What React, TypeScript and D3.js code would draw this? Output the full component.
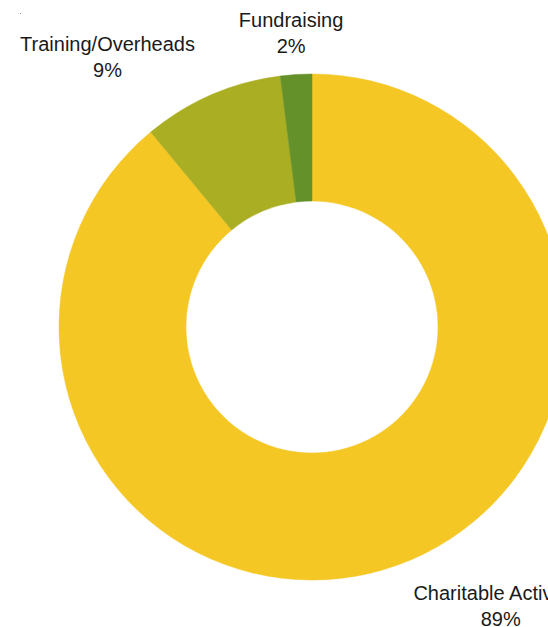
import React, { useEffect, useRef } from 'react';
import * as d3 from 'd3';

const categories = ['Charitable Activities', 'Training/Overheads', 'Fundraising'];
const values = [89, 9, 2];
const colors = ['#F4C724', '#A9AE22', '#65912B'];
// label offsets from the slice's outer mid point
const labelOffsets: [number, number][] = [[103, 35], [-104, -44], [-5, -48]];

const W = 548;
const H = 627;

const App: React.FC = () => {
  const svgRef = useRef<SVGSVGElement>(null);

  useEffect(() => {
    if (!svgRef.current) return;
    const svg = d3.select(svgRef.current);
    svg.selectAll('*').remove();

    const cx = 312;
    const cy = 327;
    const outer = 253;
    const inner = 126;

    const data = categories.map((c, i) => ({ name: c, value: values[i], color: colors[i] }));
    const pie = d3.pie<typeof data[number]>().sort(null).value(d => d.value);
    const arcs = pie(data);

    const arc = d3.arc<d3.PieArcDatum<typeof data[number]>>()
      .innerRadius(inner)
      .outerRadius(outer);

    const g = svg.append('g').attr('transform', `translate(${cx},${cy})`);

    g.selectAll('path')
      .data(arcs)
      .enter().append('path')
      .attr('d', arc)
      .attr('fill', d => d.data.color)
      .attr('stroke', d => d.data.color)
      .attr('stroke-width', 0.5);

    // labels
    arcs.forEach((d, i) => {
      const mid = (d.startAngle + d.endAngle) / 2;
      const x = Math.sin(mid) * outer + labelOffsets[i][0];
      const y = -Math.cos(mid) * outer + labelOffsets[i][1];
      const t = g.append('text')
        .attr('text-anchor', 'middle')
        .attr('font-family', '"Liberation Sans", Arial, sans-serif')
        .attr('font-size', 20)
        .attr('fill', '#1a1a1a');
      t.append('tspan').attr('x', x).attr('y', y).text(d.data.name);
      t.append('tspan').attr('x', x).attr('y', y + 26).text(`${d.data.value}%`);
    });

    // tiny speck at top-left as in the reference
    svg.append('rect')
      .attr('x', 20).attr('y', 13)
      .attr('width', 1).attr('height', 1)
      .attr('fill', '#888');
  }, []);

  return (
    <svg
      ref={svgRef}
      width={W}
      height={H}
      style={{ position: 'fixed', left: 0, top: 0, background: '#fff', display: 'block' }}
    />
  );
};

export default App;
